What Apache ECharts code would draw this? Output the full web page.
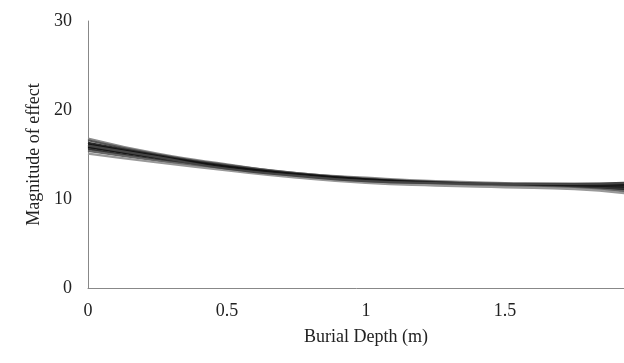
<!DOCTYPE html>
<html>
<head>
<meta charset="utf-8">
<script src="https://cdn.jsdelivr.net/npm/echarts@6/dist/echarts.min.js"></script>
<style>
  html, body { margin: 0; padding: 0; background: #fff; }
  #chart { width: 624px; height: 363px; }
</style>
</head>
<body>
<div id="chart"></div>
<script>
// Burial depth (m) at which each model run was evaluated
var depths = [0, 0.25, 0.5, 0.75, 1, 1.25, 1.5, 1.75, 2];

// Magnitude of effect for each model run
var run1  = [16.8, 15.1, 13.9, 12.9, 12.4, 12.0, 11.8, 11.7, 11.7];
var run2  = [16.6, 15.0, 13.8, 12.9, 12.3, 11.9, 11.7, 11.5, 11.3];
var run3  = [16.3, 14.9, 13.7, 12.8, 12.2, 11.9, 11.6, 11.5, 11.5];
var run4  = [16.1, 14.8, 13.6, 12.8, 12.2, 11.8, 11.6, 11.4, 11.2];
var run5  = [15.9, 14.7, 13.5, 12.7, 12.1, 11.8, 11.6, 11.5, 11.6];
var run6  = [15.8, 14.6, 13.5, 12.7, 12.1, 11.7, 11.5, 11.3, 11.0];
var run7  = [15.6, 14.4, 13.4, 12.6, 12.0, 11.7, 11.5, 11.3, 11.1];
var run8  = [15.4, 14.3, 13.3, 12.5, 11.9, 11.6, 11.4, 11.2, 10.7];
var run9  = [15.1, 14.1, 13.2, 12.4, 11.8, 11.5, 11.3, 11.1, 10.4];
var run10 = [16.0, 14.7, 13.4, 12.6, 12.0, 11.8, 11.7, 11.7, 11.9];

var runs = [run1, run2, run3, run4, run5, run6, run7, run8, run9, run10];
var runColors = ['#8a8a8a', '#555', '#2a2a2a', '#111', '#1a1a1a', '#151515', '#333', '#666', '#999', '#444'];

var yTicks = [0, 10, 20, 30];

var series = runs.map(function (vals, i) {
  return {
    type: 'line',
    smooth: true,
    showSymbol: false,
    silent: true,
    lineStyle: { color: runColors[i], width: 2.2 },
    data: depths.map(function (d, j) { return [d, vals[j]]; })
  };
});

var font = 'Liberation Serif';
var chart = echarts.init(document.getElementById('chart'), null, { renderer: 'canvas' });
chart.setOption({
  animation: false,
  // plot area runs past the right edge of the page, so the x = 2 end is clipped
  grid: {
    left: 88, top: 21, width: 556, height: 267,
    containLabel: false,
    outerBoundsMode: 'none'
  },
  xAxis: {
    type: 'value',
    min: 0, max: 2, interval: 0.5,
    name: 'Burial Depth (m)',
    nameLocation: 'middle',
    nameGap: 40,
    nameTextStyle: { fontFamily: font, fontSize: 18, color: '#222' },
    axisLine: { lineStyle: { color: '#888', width: 1 } },
    axisTick: { show: false },
    splitLine: { show: false },
    axisLabel: { fontFamily: font, fontSize: 18, color: '#222', margin: 14 }
  },
  yAxis: {
    type: 'value',
    min: yTicks[0], max: yTicks[yTicks.length - 1], interval: 10,
    name: 'Magnitude of effect',
    nameLocation: 'middle',
    nameGap: 38,
    nameTextStyle: { fontFamily: font, fontSize: 18, color: '#222' },
    axisLine: { show: true, lineStyle: { color: '#888', width: 1 } },
    axisTick: { show: false },
    splitLine: { show: false },
    axisLabel: { fontFamily: font, fontSize: 18, color: '#222', margin: 16 }
  },
  series: series
});
</script>
</body>
</html>
